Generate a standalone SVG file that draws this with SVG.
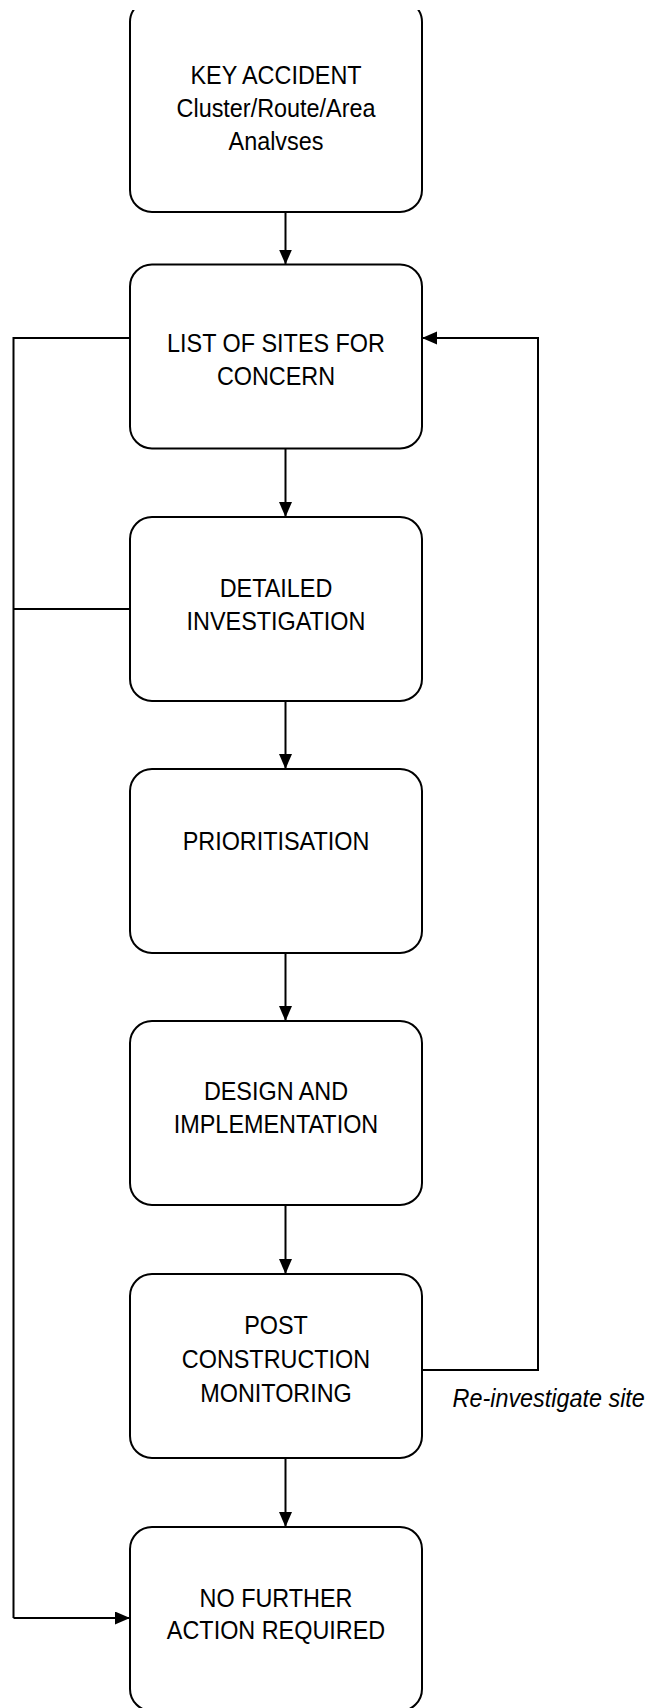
<svg xmlns="http://www.w3.org/2000/svg" width="650" height="1708" viewBox="0 0 650 1708">
<style>
.box{fill:#fff;stroke:#000;stroke-width:2}
.t{font-family:"Liberation Sans",Arial,sans-serif;font-size:26px;fill:#000;text-anchor:middle}
.lbl{font-family:"Liberation Sans",Arial,sans-serif;font-size:26px;font-style:italic;fill:#000}
.ln{fill:none;stroke:#000;stroke-width:2}
.ar{fill:none;stroke:#000;stroke-width:2;marker-end:url(#ah)}
</style>
<defs>
<marker id="ah" markerUnits="userSpaceOnUse" markerWidth="16" markerHeight="14" refX="15" refY="6.5" orient="auto">
<path d="M0,0 L15,6.5 L0,13 Z" fill="#000"/>
</marker>
<clipPath id="topclip"><rect x="0" y="10" width="650" height="300"/></clipPath>
</defs>
<rect width="650" height="1708" fill="#fff"/>

<g id="connectors">
<line class="ar" x1="285.5" y1="194" x2="285.5" y2="264.5"/>
<line class="ar" x1="285.5" y1="448.5" x2="285.5" y2="517"/>
<line class="ar" x1="285.5" y1="701" x2="285.5" y2="769"/>
<line class="ar" x1="285.5" y1="953" x2="285.5" y2="1021"/>
<line class="ar" x1="285.5" y1="1205" x2="285.5" y2="1274"/>
<line class="ar" x1="285.5" y1="1458" x2="285.5" y2="1527"/>
<polyline class="ln" points="130,338 13.5,338 13.5,1618"/>
<line class="ln" x1="130" y1="609" x2="13.5" y2="609"/>
<line class="ar" x1="13.5" y1="1618" x2="130" y2="1618"/>
<polyline class="ar" points="422,1370 538,1370 538,338 422,338"/>
<text class="lbl" transform="translate(452.5 1407) scale(0.9 1)">Re-investigate site</text>
</g>

<g id="n1">
<rect class="box" x="130" y="0" width="292" height="212" rx="22" clip-path="url(#topclip)"/>
<text class="t" transform="translate(276 84) scale(0.9 1)">KEY ACCIDENT</text>
<text class="t" transform="translate(276 117) scale(0.9 1)">Cluster/Route/Area</text>
<text class="t" transform="translate(276 150) scale(0.9 1)">Analvses</text>
</g>

<g id="n2">
<rect class="box" x="130" y="264.5" width="292" height="184" rx="22"/>
<text class="t" transform="translate(276 352) scale(0.9 1)">LIST OF SITES FOR</text>
<text class="t" transform="translate(276 385) scale(0.9 1)">CONCERN</text>
</g>

<g id="n3">
<rect class="box" x="130" y="517" width="292" height="184" rx="22"/>
<text class="t" transform="translate(276 597) scale(0.9 1)">DETAILED</text>
<text class="t" transform="translate(276 630) scale(0.9 1)">INVESTIGATION</text>
</g>

<g id="n4">
<rect class="box" x="130" y="769" width="292" height="184" rx="22"/>
<text class="t" transform="translate(276 850) scale(0.9 1)">PRIORITISATION</text>
</g>

<g id="n5">
<rect class="box" x="130" y="1021" width="292" height="184" rx="22"/>
<text class="t" transform="translate(276 1100) scale(0.9 1)">DESIGN AND</text>
<text class="t" transform="translate(276 1133) scale(0.9 1)">IMPLEMENTATION</text>
</g>

<g id="n6">
<rect class="box" x="130" y="1274" width="292" height="184" rx="22"/>
<text class="t" transform="translate(276 1334) scale(0.9 1)">POST</text>
<text class="t" transform="translate(276 1368) scale(0.9 1)">CONSTRUCTION</text>
<text class="t" transform="translate(276 1402) scale(0.9 1)">MONITORING</text>
</g>

<g id="n7">
<rect class="box" x="130" y="1527" width="292" height="184" rx="22"/>
<text class="t" transform="translate(276 1607) scale(0.9 1)">NO FURTHER</text>
<text class="t" transform="translate(276 1639) scale(0.9 1)">ACTION REQUIRED</text>
</g>
</svg>
